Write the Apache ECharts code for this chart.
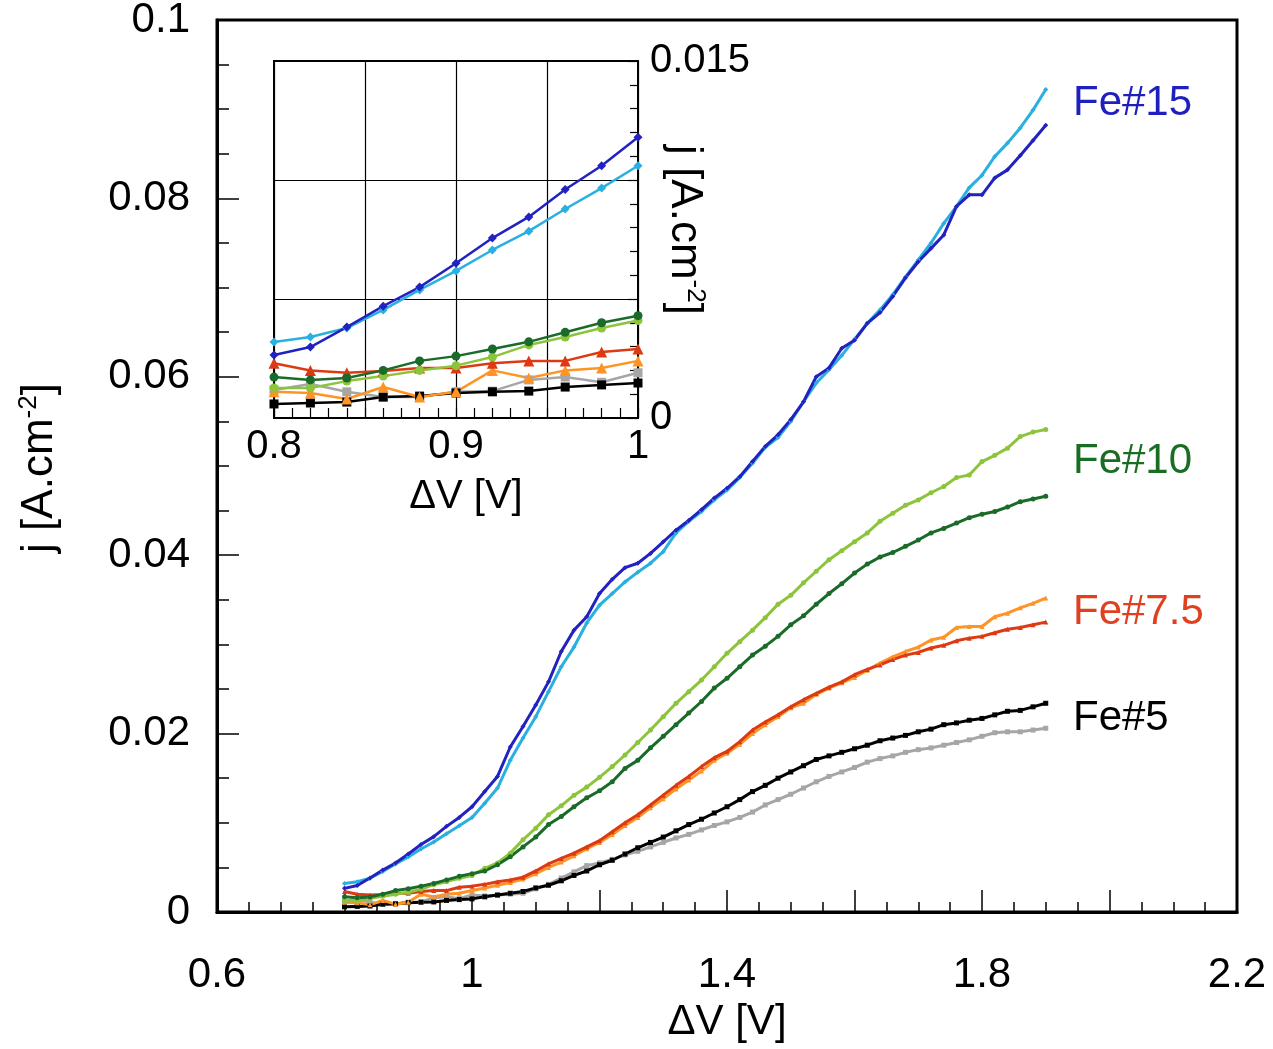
<!DOCTYPE html>
<html>
<head>
<meta charset="utf-8">
<script src="https://cdn.jsdelivr.net/npm/echarts@6/dist/echarts.min.js"></script>
<style>html,body{margin:0;padding:0;background:#fff}#c{width:1273px;height:1049px}</style>
</head>
<body>
<div id="c"></div>
<script>
// ---- data ----
const xValues = [0.80,0.82,0.84,0.86,0.88,0.90,0.92,0.94,0.96,0.98,1.00,1.02,1.04,1.06,1.08,1.10,1.12,1.14,1.16,1.18,1.20,1.22,1.24,1.26,1.28,1.30,1.32,1.34,1.36,1.38,1.40,1.42,1.44,1.46,1.48,1.50,1.52,1.54,1.56,1.58,1.60,1.62,1.64,1.66,1.68,1.70,1.72,1.74,1.76,1.78,1.80,1.82,1.84,1.86,1.88,1.90];

const fe15a = [0.00265,0.00298,0.00382,0.0047,0.0055,0.0065,0.00756,0.00845,0.0096,0.0106,0.0118,0.0135,0.0152,0.0185,0.0208,0.0232,0.0258,0.0292,0.0316,0.0331,0.0357,0.0373,0.0386,0.0391,0.0402,0.0415,0.0428,0.0439,0.0451,0.0464,0.0475,0.0488,0.0505,0.0522,0.0535,0.0552,0.0572,0.0600,0.0610,0.0632,0.0641,0.0660,0.0672,0.0690,0.0711,0.0729,0.0744,0.0759,0.0791,0.0804,0.0804,0.0823,0.0832,0.0848,0.0865,0.0882];
const fe15b = [0.00319,0.0034,0.00378,0.00454,0.00538,0.00618,0.00706,0.00785,0.00878,0.00966,0.0106,0.0122,0.0139,0.0170,0.0195,0.0219,0.0247,0.0275,0.0297,0.0324,0.0344,0.0357,0.0370,0.0381,0.0391,0.0404,0.0425,0.0438,0.0449,0.0462,0.0473,0.0487,0.0503,0.0521,0.0532,0.0550,0.0572,0.0593,0.0608,0.0624,0.0642,0.0660,0.0675,0.0692,0.0712,0.0731,0.0750,0.0772,0.0791,0.0812,0.0826,0.0847,0.0862,0.0879,0.0899,0.0922];
const fe10a = [0.00172,0.0016,0.00168,0.0020,0.0024,0.0026,0.0029,0.0032,0.0036,0.0040,0.0043,0.0046,0.0053,0.0062,0.0073,0.0084,0.0098,0.0107,0.0118,0.0128,0.0136,0.0146,0.0161,0.0170,0.0184,0.0197,0.0210,0.0223,0.0236,0.0251,0.0262,0.0275,0.0288,0.0298,0.0309,0.0322,0.0332,0.0345,0.0357,0.0368,0.0380,0.0390,0.0398,0.0403,0.0410,0.0417,0.0425,0.0430,0.0436,0.0442,0.0446,0.0449,0.0454,0.0460,0.0463,0.0466];
const fe10b = [0.00126,0.00126,0.00155,0.00176,0.0020,0.0022,0.00256,0.00307,0.0034,0.00378,0.0041,0.0049,0.0055,0.0066,0.0081,0.0094,0.0109,0.0119,0.0131,0.0140,0.0151,0.0163,0.0176,0.0190,0.0204,0.0219,0.0234,0.0247,0.0260,0.0275,0.0290,0.0303,0.0316,0.0330,0.0345,0.0355,0.0369,0.0382,0.0395,0.0405,0.0415,0.0425,0.0438,0.0447,0.0456,0.0462,0.0470,0.0477,0.0487,0.0490,0.0505,0.0512,0.0520,0.0533,0.0538,0.0541];
const fe75a = [0.0023,0.0020,0.0019,0.00197,0.0021,0.0021,0.0023,0.0024,0.0024,0.00277,0.0029,0.0031,0.0034,0.0036,0.0039,0.0046,0.0054,0.0060,0.0066,0.0073,0.0080,0.0090,0.0100,0.0109,0.0120,0.0131,0.0142,0.0152,0.0163,0.0173,0.0180,0.0191,0.0204,0.0213,0.0221,0.0230,0.0238,0.0245,0.0252,0.0258,0.0266,0.0272,0.0277,0.0283,0.0288,0.0291,0.0296,0.0299,0.0304,0.0307,0.0309,0.0313,0.0317,0.0319,0.0322,0.0325];
const fe75b = [0.0011,0.00105,0.0008,0.0013,0.00088,0.0011,0.0020,0.00168,0.0020,0.0021,0.0024,0.0027,0.0030,0.0033,0.0037,0.0043,0.0050,0.0056,0.0063,0.0071,0.0078,0.0087,0.0097,0.0106,0.0117,0.0127,0.0138,0.0148,0.0158,0.0170,0.0178,0.0188,0.0200,0.0210,0.0219,0.0229,0.0234,0.0244,0.0251,0.0257,0.0263,0.0271,0.0279,0.0286,0.0292,0.0297,0.0305,0.0308,0.0319,0.0320,0.0320,0.0331,0.0335,0.0341,0.0346,0.0352];
const fe5a = [0.00059,0.00063,0.00067,0.00088,0.00092,0.00105,0.0011,0.00113,0.0013,0.00139,0.00147,0.0017,0.0019,0.0021,0.0023,0.0027,0.0030,0.0035,0.0041,0.0046,0.0053,0.0058,0.0065,0.0072,0.0078,0.0084,0.0091,0.0098,0.0104,0.0111,0.0118,0.0126,0.0135,0.0142,0.0150,0.0157,0.0164,0.0171,0.0175,0.0179,0.0183,0.0187,0.0192,0.0195,0.0198,0.0202,0.0205,0.0210,0.0212,0.0215,0.0217,0.0221,0.0225,0.0226,0.0230,0.0234];
const fe5b = [0.00118,0.00143,0.0011,0.00088,0.00088,0.0011,0.00113,0.0016,0.00172,0.0015,0.0019,0.0018,0.0019,0.0020,0.0021,0.0026,0.0031,0.0038,0.0045,0.0052,0.0055,0.0059,0.0064,0.0068,0.0073,0.0078,0.0083,0.0087,0.0092,0.0097,0.0101,0.0106,0.0112,0.0120,0.0126,0.0132,0.0139,0.0146,0.0152,0.0157,0.0162,0.0168,0.0172,0.0175,0.0179,0.0182,0.0184,0.0187,0.0190,0.0193,0.0197,0.0201,0.0202,0.0202,0.0204,0.0206];

const xTickValues = [0.6, 1.0, 1.4, 1.8, 2.2];
const xTickLabels = ['0.6', '1', '1.4', '1.8', '2.2'];
const yTickValues = [0, 0.02, 0.04, 0.06, 0.08, 0.1];
const yTickLabels = ['0', '0.02', '0.04', '0.06', '0.08', '0.1'];
const insetXTickValues = [0.8, 0.9, 1.0];
const insetXTickLabels = ['0.8', '0.9', '1'];
const insetYTickValues = [0, 0.015];
const insetYTickLabels = ['0', '0.015'];
const seriesLabels = ['Fe#15', 'Fe#10', 'Fe#7.5', 'Fe#5'];
const insetMaxX = 1.0;

// ---- chart ----
const FONT = 'Liberation Sans, Arial, sans-serif';
function lookup(vals, labels) {
  return function (v) {
    for (let i = 0; i < vals.length; i++) if (Math.abs(v - vals[i]) < 1e-6) return labels[i];
    return '';
  };
}
const defs = [
  {data: fe5b, color: '#a6a6a6', symbol: 'rect'},
  {data: fe5a, color: '#000000', symbol: 'rect'},
  {data: fe75b, color: '#ff9426', symbol: 'triangle'},
  {data: fe75a, color: '#dd3a14', symbol: 'triangle'},
  {data: fe10b, color: '#8cc43c', symbol: 'circle'},
  {data: fe10a, color: '#1a6b2a', symbol: 'circle'},
  {data: fe15b, color: '#2ab0e0', symbol: 'diamond'},
  {data: fe15a, color: '#2222c0', symbol: 'diamond'}
];
const series = [];
defs.forEach(function (d) {
  const pts = xValues.map(function (x, i) { return [x, d.data[i]]; });
  series.push({
    type: 'line', xAxisIndex: 0, yAxisIndex: 0, data: pts,
    symbol: d.symbol, symbolSize: 5, showAllSymbol: true,
    lineStyle: {color: d.color, width: 3}, itemStyle: {color: d.color},
    z: 3, silent: true
  });
});
defs.forEach(function (d) {
  const pts = [];
  xValues.forEach(function (x, i) { if (x <= insetMaxX + 1e-9) pts.push([x, d.data[i]]); });
  series.push({
    type: 'line', xAxisIndex: 1, yAxisIndex: 1, data: pts,
    symbol: d.symbol, symbolSize: d.symbol === 'triangle' ? 11 : 9, showAllSymbol: true,
    lineStyle: {color: d.color, width: 2.5}, itemStyle: {color: d.color},
    z: 14, silent: true
  });
});

const chart = echarts.init(document.getElementById('c'), null, {renderer: 'canvas'});
function supRich(fs) {
  return {
    a: {fontSize: fs, fontFamily: FONT, color: '#000', lineHeight: fs + 4},
    s: {fontSize: Math.round(fs * 0.6), fontFamily: FONT, color: '#000', verticalAlign: 'top', lineHeight: fs + 4, padding: [0, 0, Math.round(fs * 0.55), 0]}
  };
}
const labelColors = ['#1f1fbf', '#1a6e23', '#e04020', '#000000'];
const labelY = [103, 461, 612, 718];

chart.setOption({
  animation: false,
  backgroundColor: '#fff',
  grid: [
    {left: 217, top: 20, width: 1020, height: 892, show: true, borderColor: '#000', borderWidth: 3, backgroundColor: '#fff', outerBoundsMode: 'none', containLabel: false, z: 0},
    {left: 274, top: 61, width: 364, height: 357, show: true, borderColor: '#000', borderWidth: 2, backgroundColor: '#fff', outerBoundsMode: 'none', containLabel: false, z: 10}
  ],
  xAxis: [
    {gridIndex: 0, type: 'value', min: 0.6, max: 2.2, interval: 0.2,
     axisLine: {show: true, onZero: false, lineStyle: {color: '#000', width: 3}},
     axisTick: {show: true, inside: true, length: 22, lineStyle: {color: '#000', width: 1.5}},
     minorTick: {show: true, splitNumber: 4, length: 10, lineStyle: {color: '#000', width: 1.5}},
     splitLine: {show: false}, minorSplitLine: {show: false},
     axisLabel: {show: true, margin: 42, fontSize: 42, fontFamily: FONT, color: '#000', formatter: lookup(xTickValues, xTickLabels), showMinLabel: true, showMaxLabel: true, hideOverlap: false}
    },
    {gridIndex: 1, type: 'value', min: 0.8, max: 1.0, interval: 0.05, z: 12,
     axisLine: {show: true, onZero: false, lineStyle: {color: '#000', width: 2}},
     axisTick: {show: true, inside: true, length: 10, lineStyle: {color: '#000', width: 1.2}},
     minorTick: {show: true, splitNumber: 5, length: 10, lineStyle: {color: '#000', width: 1.2}},
     splitLine: {show: true, lineStyle: {color: '#000', width: 1.2}}, minorSplitLine: {show: false},
     axisLabel: {show: true, margin: 9, fontSize: 40, fontFamily: FONT, color: '#000', formatter: lookup(insetXTickValues, insetXTickLabels), showMinLabel: true, showMaxLabel: true, hideOverlap: false}
    }
  ],
  yAxis: [
    {gridIndex: 0, type: 'value', min: 0, max: 0.1, interval: 0.02,
     axisLine: {show: true, onZero: false, lineStyle: {color: '#000', width: 3}},
     axisTick: {show: true, inside: true, length: 22, lineStyle: {color: '#000', width: 1.5}},
     minorTick: {show: true, splitNumber: 4, length: 12, lineStyle: {color: '#000', width: 1.5}},
     splitLine: {show: false}, minorSplitLine: {show: false},
     axisLabel: {show: true, margin: 27, fontSize: 42, fontFamily: FONT, color: '#000', formatter: lookup(yTickValues, yTickLabels), showMinLabel: true, showMaxLabel: true, hideOverlap: false}
    },
    {gridIndex: 1, type: 'value', position: 'right', min: 0, max: 0.015, interval: 0.005, z: 12,
     axisLine: {show: true, onZero: false, lineStyle: {color: '#000', width: 2}},
     axisTick: {show: true, inside: true, length: 10, lineStyle: {color: '#000', width: 1.2}},
     minorTick: {show: true, splitNumber: 5, length: 8, lineStyle: {color: '#000', width: 1.2}},
     splitLine: {show: true, lineStyle: {color: '#000', width: 1.2}}, minorSplitLine: {show: false},
     axisLabel: {show: true, margin: 12, fontSize: 40, fontFamily: FONT, color: '#000', formatter: lookup(insetYTickValues, insetYTickLabels), showMinLabel: true, showMaxLabel: true, hideOverlap: false}
    }
  ],
  series: series,
  graphic: [
    {type: 'text', x: 727, y: 1022, z: 20, style: {text: 'ΔV [V]', fontSize: 42, fontFamily: FONT, fill: '#000', align: 'center', verticalAlign: 'middle'}},
    {type: 'text', x: 466, y: 497, z: 20, style: {text: 'ΔV [V]', fontSize: 40, fontFamily: FONT, fill: '#000', align: 'center', verticalAlign: 'middle'}},
    {type: 'text', x: 40, y: 468, rotation: Math.PI / 2, z: 20, style: {text: '{a|j [A.cm}{s|-2}{a|]}', rich: supRich(44), align: 'center', verticalAlign: 'middle'}},
    {type: 'text', x: 684, y: 230, rotation: -Math.PI / 2, z: 20, style: {text: '{a|j [A.cm}{s|-2}{a|]}', rich: supRich(44), align: 'center', verticalAlign: 'middle'}}
  ].concat(seriesLabels.map(function (t, i) {
    return {type: 'text', x: 1073, y: labelY[i], z: 20, style: {text: t, fontSize: 42, fontFamily: FONT, fill: labelColors[i], align: 'left', verticalAlign: 'middle'}};
  }))
});
</script>
</body>
</html>
